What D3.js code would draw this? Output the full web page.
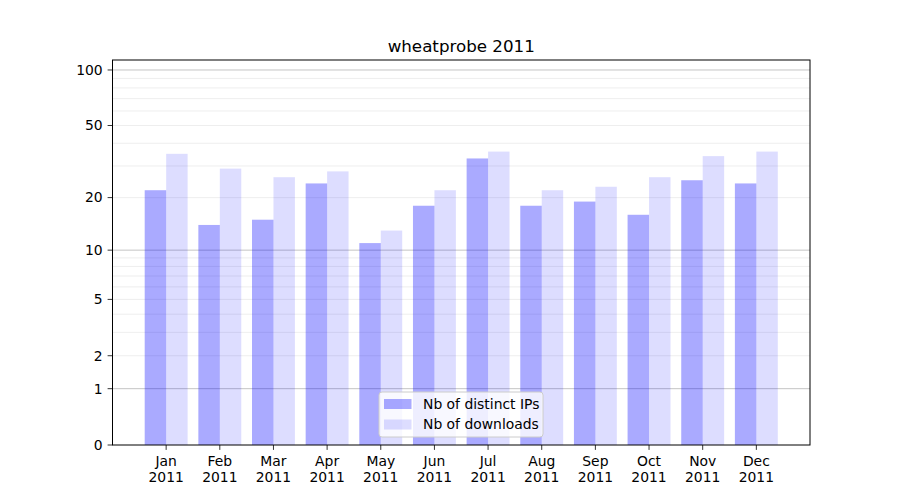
<!DOCTYPE html>
<html>
<head>
<meta charset="utf-8">
<script src="https://cdn.jsdelivr.net/npm/d3@7"></script>
<style>
body { margin: 0; background: #fff; }
svg { font-family: "DejaVu Sans", sans-serif; }
</style>
</head>
<body>
<svg id="chart" width="900" height="500"></svg>
<script>
const months = ["Jan","Feb","Mar","Apr","May","Jun","Jul","Aug","Sep","Oct","Nov","Dec"];
const yearLabel = "2011";
const distinctIPs = [22, 14, 15, 24, 11, 18, 33, 18, 19, 16, 25, 24];
const downloads   = [35, 29, 26, 28, 13, 22, 36, 22, 23, 26, 34, 36];
const yTickValues = [0, 1, 2, 5, 10, 20, 50, 100];
const majorGrid = [1, 10, 100];
const minorGrid = [2,3,4,5,6,7,8,9,20,30,40,50,60,70,80,90];
const seriesNames = ["Nb of distinct IPs", "Nb of downloads"];
const chartTitle = "wheatprobe 2011";

(function () {
const svg = d3.select("#chart");
const pLeft = 112.5, pRight = 810, pTop = 60, pBottom = 445;

const x = d3.scaleLinear().domain([-1, 12]).range([pLeft, pRight]);
const yLog = d3.scaleLog().domain([1, 114.2]).range([pBottom, pTop]);
const y = v => yLog(v + 1);

// grid
const grid = svg.append("g");
grid.selectAll("line.minor").data(minorGrid).join("line").attr("class", "minor")
  .attr("x1", pLeft).attr("x2", pRight)
  .attr("y1", d => y(d)).attr("y2", d => y(d))
  .attr("stroke", "#b0b0b0").attr("stroke-opacity", 0.22).attr("stroke-width", 1);
grid.selectAll("line.major").data(majorGrid).join("line").attr("class", "major")
  .attr("x1", pLeft).attr("x2", pRight)
  .attr("y1", d => y(d)).attr("y2", d => y(d))
  .attr("stroke", "#b0b0b0").attr("stroke-opacity", 0.75).attr("stroke-width", 1);

const bw = x(0.4) - x(0);
// bars
svg.append("g").selectAll("rect").data(distinctIPs).join("rect")
  .attr("x", (d, i) => x(i - 0.4)).attr("width", bw)
  .attr("y", d => y(d)).attr("height", d => pBottom - y(d))
  .attr("fill", "blue").attr("fill-opacity", 1/3);
svg.append("g").selectAll("rect").data(downloads).join("rect")
  .attr("x", (d, i) => x(i)).attr("width", bw)
  .attr("y", d => y(d)).attr("height", d => pBottom - y(d))
  .attr("fill", "blue").attr("fill-opacity", 0.133);

// frame
svg.append("rect").attr("x", pLeft).attr("y", pTop)
  .attr("width", pRight - pLeft).attr("height", pBottom - pTop)
  .attr("fill", "none").attr("stroke", "#000").attr("stroke-width", 1);

// y ticks
const yt = svg.append("g");
yt.selectAll("line").data(yTickValues).join("line")
  .attr("x1", pLeft - 4.9).attr("x2", pLeft)
  .attr("y1", d => y(d)).attr("y2", d => y(d))
  .attr("stroke", "#000").attr("stroke-width", 0.8);
yt.selectAll("text").data(yTickValues).join("text")
  .attr("x", pLeft - 9.8).attr("y", d => y(d))
  .attr("dy", "0.35em").attr("text-anchor", "end")
  .attr("font-size", "13.9px").attr("fill", "#000")
  .text(d => d);

// x ticks
const xt = svg.append("g");
xt.selectAll("line").data(months).join("line")
  .attr("x1", (d, i) => x(i)).attr("x2", (d, i) => x(i))
  .attr("y1", pBottom).attr("y2", pBottom + 4.9)
  .attr("stroke", "#000").attr("stroke-width", 0.8);
const xl = xt.selectAll("text").data(months).join("text")
  .attr("text-anchor", "middle").attr("font-size", "13.9px").attr("fill", "#000");
xl.append("tspan").attr("x", (d, i) => x(i)).attr("y", 466).text(d => d);
xl.append("tspan").attr("x", (d, i) => x(i)).attr("y", 482).text(yearLabel);

// title
svg.append("text").attr("x", (pLeft + pRight) / 2).attr("y", 52)
  .attr("text-anchor", "middle").attr("font-size", "16.7px").attr("fill", "#000")
  .text(chartTitle);

// legend
const lg = svg.append("g");
lg.append("rect").attr("x", 379).attr("y", 392).attr("width", 164).attr("height", 45)
  .attr("rx", 3).attr("fill", "#fff").attr("fill-opacity", 0.8)
  .attr("stroke", "#cccccc").attr("stroke-width", 1);
const opac = [1/3, 0.133];
seriesNames.forEach((name, i) => {
  const cy = 404 + i * 20.5;
  lg.append("rect").attr("x", 384).attr("y", cy - 5).attr("width", 27.5).attr("height", 10)
    .attr("fill", "blue").attr("fill-opacity", opac[i]);
  lg.append("text").attr("x", 423).attr("y", cy).attr("dy", "0.35em")
    .attr("font-size", "13.9px").attr("fill", "#000").text(name);
});
})();
</script>
</body>
</html>
